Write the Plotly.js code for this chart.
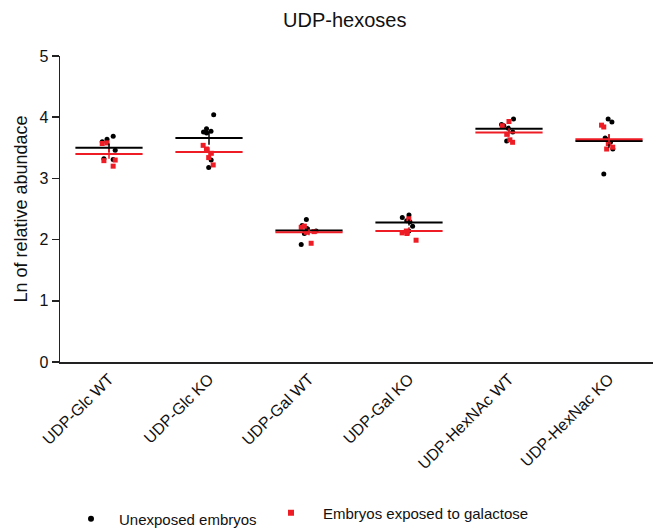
<!DOCTYPE html>
<html>
<head>
<meta charset="utf-8">
<script src="https://cdn.plot.ly/plotly-3.0.1.min.js"></script>
<style>html,body{margin:0;padding:0;background:#fff;}#chart{width:653px;height:528px;}</style>
</head>
<body>
<div id="chart"></div>
<script>
const categories = ["UDP-Glc WT","UDP-Glc KO","UDP-Gal WT","UDP-Gal KO","UDP-HexNAc WT","UDP-HexNac KO"];

// Individual measurements (Ln of relative abundance)
const unexposedPoints = [
  [3.64, 3.69, 3.60, 3.32, 3.31, 3.46],
  [4.04, 3.77, 3.74, 3.76, 3.81, 3.30, 3.18],
  [2.33, 2.18, 2.23, 2.14, 2.10, 1.92],
  [2.40, 2.36, 2.29, 2.22, 2.14, 2.31],
  [3.97, 3.88, 3.86, 3.82, 3.76, 3.61],
  [3.97, 3.92, 3.63, 3.66, 3.59, 3.48, 3.07]
];
const galactosePoints = [
  [3.58, 3.57, 3.30, 3.29, 3.20],
  [3.54, 3.48, 3.41, 3.34, 3.22],
  [2.22, 2.20, 2.13, 1.94, 2.12],
  [2.34, 2.11, 2.10, 2.14, 1.99],
  [3.93, 3.86, 3.72, 3.63, 3.59],
  [3.84, 3.87, 3.57, 3.51, 3.48]
];

// Group means and SEM
const unexposedMean = [3.50, 3.66, 2.15, 2.28, 3.81, 3.61];
const galactoseMean = [3.40, 3.43, 2.12, 2.14, 3.75, 3.64];
const unexposedSEM = [0.07, 0.11, 0.05, 0.05, 0.05, 0.11];
const galactoseSEM = [0.08, 0.08, 0.05, 0.06, 0.07, 0.08];

const seriesNames = ["Unexposed embryos", "Embryos exposed to galactose"];
const BLACK = "#000000";
const RED = "#ee1c25";

function flatten(groups) {
  const xs = [], ys = [];
  groups.forEach((vals, i) => vals.forEach(v => { xs.push(categories[i]); ys.push(v); }));
  return {xs, ys};
}

function stripTrace(groups, color, symbol) {
  const f = flatten(groups);
  return {
    type: "box", x: f.xs, y: f.ys,
    boxpoints: "all", jitter: 0.8, pointpos: 0, width: 0.2,
    fillcolor: "rgba(0,0,0,0)", line: {width: 0, color: "rgba(0,0,0,0)"},
    marker: {color: color, symbol: symbol, size: 5},
    showlegend: false, hoverinfo: "y"
  };
}

function meanTrace(means, sem, color) {
  return {
    type: "scatter", mode: "markers", x: categories, y: means,
    marker: {symbol: "line-ew", size: 48, color: color, line: {color: color, width: 2}},
    error_y: {type: "data", array: sem, visible: true, color: color, thickness: 1.5, width: 0},
    showlegend: false, hoverinfo: "y"
  };
}

const data = [
  stripTrace(unexposedPoints, BLACK, "circle"),
  stripTrace(galactosePoints, RED, "square"),
  meanTrace(unexposedMean, unexposedSEM, BLACK),
  meanTrace(galactoseMean, galactoseSEM, RED),
  {type: "scatter", mode: "markers", x: [null], y: [null], name: seriesNames[0], legend: "legend",
   marker: {color: BLACK, symbol: "circle", size: 6}, showlegend: true},
  {type: "scatter", mode: "markers", x: [null], y: [null], name: seriesNames[1], legend: "legend2",
   marker: {color: RED, symbol: "square", size: 6}, showlegend: true}
];

const layout = {
  width: 653, height: 528,
  margin: {l: 60, r: 0, t: 56, b: 166},
  paper_bgcolor: "#fff", plot_bgcolor: "#fff",
  font: {family: "Liberation Sans, Arial, sans-serif", color: "#111"},
  title: {text: "UDP-hexoses", x: 0.528, xanchor: "center", y: 0.962, yanchor: "middle", font: {size: 20, color: "#111"}},
  boxmode: "overlay",
  showlegend: true,
  legend: {orientation: "h", xref: "container", yref: "container", x: 63/653, xanchor: "left",
           y: 1 - 519/528, yanchor: "middle", itemwidth: 46,
           font: {size: 15, color: "#111"}, bgcolor: "rgba(0,0,0,0)"},
  legend2: {orientation: "h", xref: "container", yref: "container", x: 259/653, xanchor: "left",
           y: 1 - 513/528, yanchor: "middle", itemwidth: 54,
           font: {size: 15, color: "#111"}, bgcolor: "rgba(0,0,0,0)"},
  xaxis: {
    type: "category", range: [-0.49, 5.44], fixedrange: true,
    showline: true, linecolor: "#222", linewidth: 1.5,
    ticks: "", tickangle: -45, tickfont: {size: 16, color: "#111"},
    showgrid: false, zeroline: false
  },
  yaxis: {
    range: [0, 5], tickvals: [0, 1, 2, 3, 4, 5], fixedrange: true,
    showline: true, linecolor: "#222", linewidth: 1.5,
    ticks: "outside", ticklen: 7, tickwidth: 1.5, tickcolor: "#222",
    tickfont: {size: 16, color: "#111"}, showgrid: false, zeroline: false,
    title: {text: "Ln of relative abundace", font: {size: 18, color: "#111"}, standoff: 7}
  }
};

Plotly.newPlot("chart", data, layout, {displayModeBar: false, staticPlot: true});
</script>
</body>
</html>
